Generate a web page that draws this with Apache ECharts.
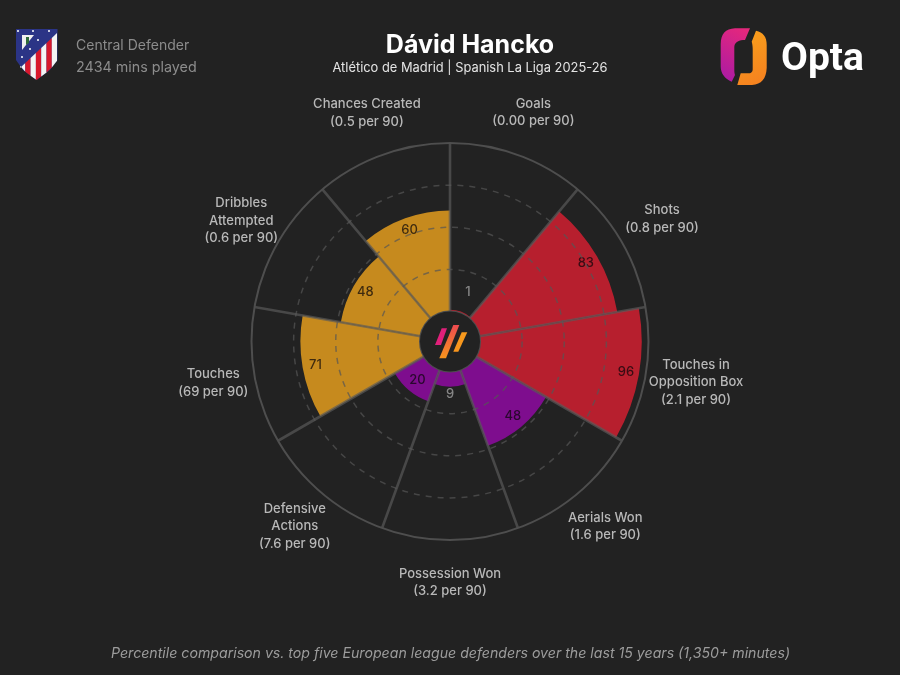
<!DOCTYPE html>
<html><head><meta charset="utf-8">
<style>html,body{margin:0;padding:0;background:#222222}#c{width:900px;height:675px}</style>
<script src="https://cdn.jsdelivr.net/npm/echarts@6/dist/echarts.min.js"></script>
</head><body><div id="c"></div>
<script>
// ---- data ----
const categories = ['Goals','Shots','Touches in Opposition Box','Aerials Won','Possession Won','Defensive Actions','Touches','Dribbles Attempted','Chances Created'];
const labelTexts = ['Goals\n(0.00 per 90)','Shots\n(0.8 per 90)','Touches in\nOpposition Box\n(2.1 per 90)','Aerials Won\n(1.6 per 90)','Possession Won\n(3.2 per 90)','Defensive\nActions\n(7.6 per 90)','Touches\n(69 per 90)','Dribbles\nAttempted\n(0.6 per 90)','Chances Created\n(0.5 per 90)'];
const percentiles = [1,83,96,48,9,20,71,48,60];
const groups = ['attack','attack','attack','defence','defence','defence','build','build','build'];
// ---- styling ----
const groupColors = {attack:'#b71f2e',defence:'#7e0d8e',build:'#c68a1e'};
const outsideDistance = {1:21,9:7};
const labelRadius = [243.6,244.8,249.4,241.6,241,241.5,240.4,241,243];
const labelAngle = [20,60,99.4,140,180,220,260,300,340];
const CX=450, CY=341.5, R0=30, R1=198.5;
const FONT='Inter, "Noto Sans", sans-serif';

const barData = percentiles.map((v,i)=>{
  const outside = outsideDistance[v]!==undefined;
  return {value:v,itemStyle:{color:groupColors[groups[i]]},
    label: outside ? {position:'end',distance:outsideDistance[v],color:'#868686',rotate:0}
                   : {position:'insideEnd',distance:13,color:'rgba(10,5,10,0.72)',rotate:0}};
});

const g=[];
function text(t,x,y,o){g.push({type:'text',z:50,silent:true,style:Object.assign({text:t,x:x,y:y,fill:'#b8b8b8',font:'500 13px '+FONT,align:'center',verticalAlign:'middle'},o||{})});}
// outline helper: list of points; a 4-item entry [cx,cy,x,y] adds a quadratic curve
function outline(list){const out=[];let last=null;list.forEach(p=>{
  if(p.length===4){for(let t=0.125;t<=1.001;t+=0.125){const u=1-t;out.push([u*u*last[0]+2*u*t*p[0]+t*t*p[2],u*u*last[1]+2*u*t*p[1]+t*t*p[3]]);}last=[p[2],p[3]];}
  else{out.push(p);last=p;}});return out;}

// category labels around the ring
labelTexts.forEach((t,i)=>{
  const a=labelAngle[i]*Math.PI/180;
  text(t,CX+labelRadius[i]*Math.sin(a),CY-labelRadius[i]*Math.cos(a),{lineHeight:17.5});
});
// header and footer
text('Dávid Hancko',470,45,{fill:'#ffffff',font:'700 25px '+FONT});
text('Atlético de Madrid | Spanish La Liga 2025-26',470,68.5,{fill:'#e4e4e4',font:'400 12.87px '+FONT});
text('Central Defender',76,46,{align:'left',fill:'#8c8c8c',font:'400 14px '+FONT});
text('2434 mins played',76,68,{align:'left',fill:'#8c8c8c',font:'400 14.3px '+FONT});
text('Percentile comparison vs. top five European league defenders over the last 15 years (1,350+ minutes)',450.5,653.5,{fill:'#9c9c9c',font:'italic 400 14.15px '+FONT});
text('Opta',781,60,{align:'left',fill:'#ffffff',font:'700 39px Roboto, sans-serif'});

// hub
g.push({type:'circle',z:60,silent:true,shape:{cx:CX,cy:CY,r:R0},style:{fill:'#222222'}});
[[[441.7,328.3],[447,328.3],[441,345],[435,345]],
 [[453.3,325],[459.3,325],[446,358.3],[439.3,358.3]],
 [[461.7,332.3],[467.3,332.3],[458.3,351.7],[453.3,351.7]]].forEach((p,i)=>{
  g.push({type:'polygon',z:61,silent:true,shape:{points:p},style:{fill:i===0?'#e0207a':{type:'linear',x:0,y:0,x2:0,y2:1,colorStops:[{offset:0,color:i===1?'#ee4a50':'#f79a1d'},{offset:1,color:'#f7941d'}]}}});
});

// Opta mark
g.push({type:'polygon',z:50,silent:true,shape:{points:outline([[750,28.3],[735,28.3],[720.7,29,720.7,44],[720.7,66.7],[721,77,731.7,81.7],[735,75],[734.3,73,734.3,70],[734.3,47],[734.5,41,743,40],[745,40]])},
  style:{fill:{type:'linear',x:0,y:1,x2:1,y2:0,colorStops:[{offset:0,color:'#a81aa6'},{offset:1,color:'#e8287a'}]}}});
g.push({type:'polygon',z:50,silent:true,shape:{points:outline([[756,30.7],[766.7,33,766.7,45],[766.7,68],[766,84,752,85],[737.3,85],[740.7,73.3],[749,73.3],[752.7,73,752.7,69],[752.7,50],[752.7,45,751.7,41.7]])},
  style:{fill:{type:'linear',x:0,y:0,x2:1,y2:1,colorStops:[{offset:0,color:'#f9a21b'},{offset:1,color:'#f57f20'}]}}});

// Club crest
const shield=[[16,29],[57.5,29],[57.5,60],[50,70],[36.5,80],[23,70],[16,60]];
g.push({type:'polygon',z:50,silent:true,shape:{points:shield},style:{fill:'#2b3486'}});
function crestBottom(x){return x<23?60+(x-16)/7*10:x<36.5?70+(x-23)/13.5*10:x<50?80-(x-36.5)/13.5*10:70-(x-50)/7.5*10;}
function crestDiag(x){return 68-(x-20)*33/35;}
for(let k=0;k<7;k++){
  const x0=20+k*5.3,x1=x0+5.3;
  const xb=Math.min(x1,57);
  const mid=(x0<36.5&&xb>36.5)?[[xb,crestDiag(xb)],[xb,crestBottom(xb)],[36.5,80],[x0,crestBottom(x0)]]:[[xb,crestDiag(xb)],[xb,crestBottom(xb)],[x0,crestBottom(x0)]];
  g.push({type:'polygon',z:51,silent:true,shape:{points:[[x0,crestDiag(x0)]].concat(mid)},style:{fill:k%2?'#d8182c':'#f4f4f4'}});
}
g.push({type:'polygon',z:51,silent:true,shape:{points:[[22,35],[34,35],[22,50]]},style:{fill:'#efefef'}});
g.push({type:'polygon',z:52,silent:true,shape:{points:[[26,37],[29,37],[29,43],[26,45]]},style:{fill:'#2f6b3a'}});
[[18,31],[33,31],[49,31],[38,40],[30,49],[22,57]].forEach(p=>g.push({type:'circle',z:52,silent:true,shape:{cx:p[0],cy:p[1],r:1},style:{fill:'#ffffff'}}));

const chart=echarts.init(document.getElementById('c'),null,{renderer:'canvas'});
chart.setOption({
  backgroundColor:'#222222',
  animation:false,
  polar:{center:[CX,CY],radius:[R0,R1]},
  angleAxis:{type:'category',data:categories,startAngle:90,boundaryGap:true,z:5,
    axisLine:{show:true,lineStyle:{color:'#4e4e4e',width:2}},
    axisTick:{show:false},axisLabel:{show:false},
    splitLine:{show:true,lineStyle:{color:'rgba(90,90,90,0.68)',width:2.6}},
    splitArea:{show:false}},
  radiusAxis:{type:'value',min:0,max:100,interval:25,z:4,
    axisLine:{show:false},axisTick:{show:false},axisLabel:{show:false},
    splitLine:{show:true,lineStyle:{color:['rgba(0,0,0,0)','rgba(85,85,85,0.7)','rgba(85,85,85,0.7)','rgba(85,85,85,0.7)','rgba(0,0,0,0)'],width:1.5,type:[6,6]}}},
  series:[{type:'bar',coordinateSystem:'polar',data:barData,barCategoryGap:'0%',barGap:'0%',z:2,
    label:{show:true,rotate:0,fontFamily:FONT,fontSize:13,fontWeight:500,align:'center',verticalAlign:'middle',formatter:p=>String(p.value)}}],
  graphic:{elements:g}
});
</script></body></html>
